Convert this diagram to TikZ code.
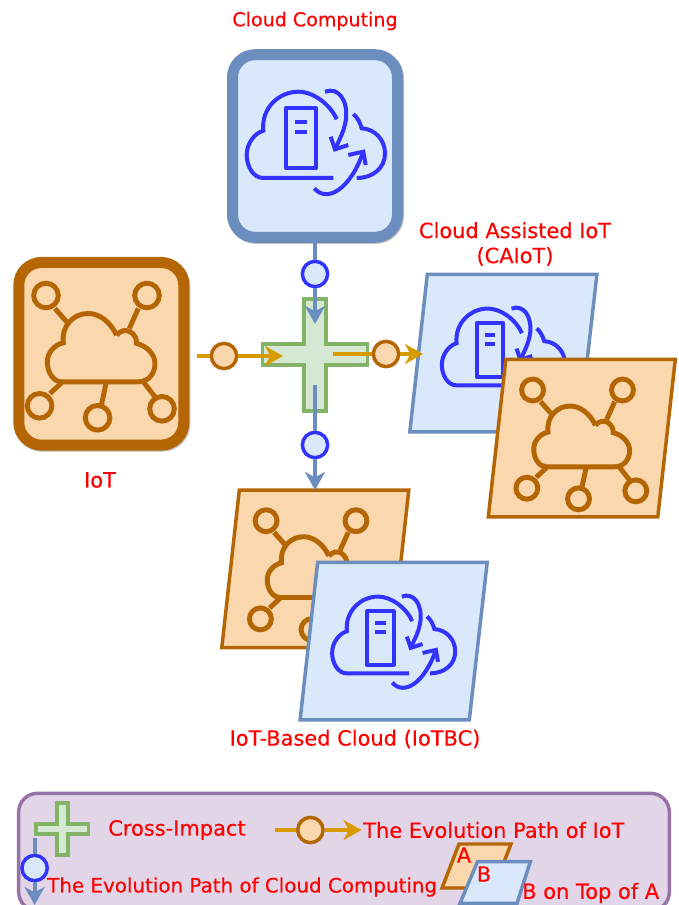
\documentclass[tikz,border=0pt]{standalone}
\usepackage{fontspec}
\setmainfont[FakeBold=0.3]{DejaVu Sans}
\usetikzlibrary{arrows.meta}

\definecolor{cloudfill}{HTML}{DAE8FC}
\definecolor{cloudedge}{HTML}{6C8EBF}
\definecolor{cloudink}{HTML}{3333FF}
\definecolor{iotfill}{HTML}{FAD7AC}
\definecolor{iotedge}{HTML}{B46504}
\definecolor{iotpath}{HTML}{D79B00}
\definecolor{crossfill}{HTML}{D5E8D4}
\definecolor{crossedge}{HTML}{82B366}
\definecolor{keyfill}{HTML}{E1D5E7}
\definecolor{keyedge}{HTML}{9673A6}

\tikzset{
  caption/.style={text=red, font=\fontsize{#1}{18.75pt}\selectfont, inner sep=0pt, align=center},
  caption/.default=15.7pt,
  iconbox/.style={rounded corners=17pt, line width=8.25pt, minimum width=123.75pt, minimum height=137pt,
    preaction={draw=black!25, transform canvas={shift={(.8pt,-.8pt)}}}},
  cloudline/.style={draw=cloudink, line width=3pt},
  iotline/.style={draw=iotedge, line width=3.7pt},
  cloudslabline/.style={draw=cloudedge, fill=cloudfill, line width=2.6pt},
  iotslabline/.style={draw=iotedge, fill=iotfill, line width=2.6pt},
  cloudstop/.style={circle, draw=cloudink, fill=cloudfill, line width=2.6pt, minimum size=19pt, inner sep=0pt},
  iotstop/.style={circle, draw=iotedge, fill=iotfill, line width=2.6pt, minimum size=19pt, inner sep=0pt},
  cloudarrow/.style={draw=cloudedge, line width=3pt, -{Stealth[length=13.5pt, width=15pt, inset=4pt]}},
  iotarrow/.style={draw=iotpath, line width=3pt, -{Stealth[length=13.5pt, width=15pt, inset=4pt]}},
  cloudicon/.pic={
    \draw[cloudline] (18.3,32) -- (-51.7,32) .. controls (-62,32) and (-68.3,20) .. (-68.3,9)
      .. controls (-68.3,-3) and (-60,-13) .. (-51.7,-15.3)
      .. controls (-54,-38) and (-36,-54.3) .. (-16.7,-54.3)
      .. controls (-2,-54.3) and (15,-42) .. (21.7,-26.7);
    \draw[cloudline] (38.3,-32) .. controls (43,-28) and (45,-23) .. (46.7,-17.7)
      .. controls (60,-17) and (70,-6) .. (70,7.3) .. controls (70,22) and (58,32) .. (41.7,32);
    \draw[cloudline, line join=round] (-29,-37.7) rectangle (1,22.3);
    \foreach \y in {-24.3,-14.3}{
      \draw[cloudline] (-20,\y) -- (-8.3,\y);
    }
    \draw[cloudline] (10,-54.3) .. controls (23.3,-59.3) and (33,-46) .. (31,-27) .. controls (29,-14) and (25,-8) .. (20,3.3);
    \draw[cloudline] (15.7,-9.3) -- (20,3.3) -- (33.3,-1);
    \draw[cloudline] (-.7,42.3) .. controls (11.7,57) and (35,44) .. (48.3,5.7);
    \draw[cloudline] (33.3,9) -- (48.3,5.7) -- (50.7,19);
  },
  ioticon/.pic={
    \draw[iotline] (15.3,-18.7) .. controls (9,-32) and (-2,-40.3) .. (-13,-40.3)
      .. controls (-28,-40.3) and (-40,-28) .. (-38,-11)
      .. controls (-47,-9) and (-54,-1) .. (-54,8) .. controls (-54,20) and (-47,28) .. (-39.7,28)
      -- (37,28) .. controls (47,28) and (53.7,20) .. (53.7,9.7)
      .. controls (53.7,0) and (45,-8) .. (35.3,-10.3)
      .. controls (36,-20) and (24,-29) .. (15.3,-18.7);
    \foreach \x/\y in {-55.3/-58.3, 45.7/-58.3, -61.7/52, -3.7/64, 60.7/55}{
      \draw[iotline] (\x,\y) circle [radius=12.3];
    }
    \draw[iotline] (-46.3,-45.3) -- (-34.7,-32);
    \draw[iotline] (37,-45.3) -- (28,-25.3);
    \draw[iotline] (-39.7,29) -- (-51.3,39.7);
    \draw[iotline] (4.7,29.7) -- (.3,50.3);
    \draw[iotline] (42,28) -- (53.7,43);
  },
  cloudslab/.pic={
    \draw[cloudslabline] (-75.3,-82.5) -- (94.3,-82.5) -- (76.4,75) -- (-92.8,75) -- cycle;
    \pic[scale=.89] {cloudicon};
  },
  iotslab/.pic={
    \draw[iotslabline] (-76,-82.5) -- (93.5,-82.5) -- (76,75) -- (-93.5,75) -- cycle;
    \pic[scale=.89] {ioticon};
  },
  impact/.pic={
    \draw[draw=crossedge, fill=crossfill, line width=2.8pt]
      (-10.7,-56) -- (10.7,-56) -- (10.7,-10.5) -- (52.5,-10.5) -- (52.5,10.5) -- (10.7,10.5)
      -- (10.7,56) -- (-10.7,56) -- (-10.7,10.5) -- (-52.5,10.5) -- (-52.5,-10.5) -- (-10.7,-10.5) -- cycle;
  },
}

\begin{document}
\begin{tikzpicture}[x=0.75pt, y=-0.75pt]
  \clip (0,0) rectangle (678,905);

  \node[caption=14.3pt] (cloudtitle) at (315,21) {Cloud Computing};
  \node[iconbox, draw=cloudedge, fill=cloudfill] (cloudbox) at (315,146) {};
  \pic at (315,146) {cloudicon};

  \node[iconbox, draw=iotedge, fill=iotfill] (iotbox) at (101.3,353.8) {};
  \pic at (101.3,353.8) {ioticon};
  \node[caption] (iottitle) at (100,480) {IoT};

  \node[caption] (caiottitle) at (515,244) {Cloud Assisted IoT\\(CAIoT)};
  \pic at (502.6,356.9) {cloudslab};
  \pic at (581.8,441.9) {iotslab};

  \pic at (315.3,572.6) {iotslab};
  \pic at (392.9,644.9) {cloudslab};
  \node[caption] (iotbctitle) at (355,739) {IoT-Based Cloud (IoTBC)};

  \pic at (315,354.8) {impact};

  \node[cloudstop] (cloudin) at (315,274) {};
  \node[cloudstop] (cloudout) at (315,445) {};
  \node[iotstop] (iotin) at (224,356) {};
  \node[iotstop] (iotout) at (386,354) {};
  \coordinate (cloudinend) at (315,324);
  \coordinate (cloudoutstart) at (315,385);
  \coordinate (cloudoutend) at (315,490);
  \coordinate (iotinstart) at (197,356);
  \coordinate (iotinend) at (283,356);
  \coordinate (iotoutstart) at (333,354);
  \coordinate (iotoutend) at (423,354);

  \draw[draw=cloudedge, line width=3pt] (cloudbox.south) -- (cloudin.north);
  \draw[cloudarrow] (cloudin.south) -- (cloudinend);
  \draw[draw=cloudedge, line width=3pt] (cloudoutstart) -- (cloudout.north);
  \draw[cloudarrow] (cloudout.south) -- (cloudoutend);
  \draw[draw=iotpath, line width=3pt] (iotinstart) -- (iotin.west);
  \draw[iotarrow] (iotin.east) -- (iotinend);
  \draw[draw=iotpath, line width=3pt] (iotoutstart) -- (iotout.west);
  \draw[iotarrow] (iotout.east) -- (iotoutend);

  \begin{scope}
    \node[draw=keyedge, fill=keyfill, line width=2.6pt, rounded corners=14pt, minimum width=488pt, minimum height=88pt] (keybox) at (344,852) {};
    \pic[xscale=.5, yscale=.47] at (62.3,829) {impact};
    \node[caption, anchor=west] (keycross) at (108,830) {Cross-Impact};

    \coordinate (keyiotstart) at (274.5,830);
    \coordinate (keyiotend) at (361.5,830);
    \node[iotstop] (keyiot) at (310.4,830) {};
    \draw[draw=iotpath, line width=3pt] (keyiotstart) -- (keyiot.west);
    \draw[iotarrow] (keyiot.east) -- (keyiotend);
    \node[caption, anchor=west] (keyiottext) at (363,830) {The Evolution Path of IoT};

    \coordinate (keycloudstart) at (34.6,838);
    \coordinate (keycloudend) at (34.6,905);
    \node[cloudstop] (keycloud) at (34.6,868) {};
    \draw[draw=cloudedge, line width=3pt] (keycloudstart) -- (keycloud.north);
    \draw[cloudarrow] (keycloud.south) -- (keycloudend);
    \node[caption=14.9pt, anchor=west] (keycloudtext) at (47,887) {The Evolution Path of Cloud Computing};

    \draw[iotslabline] (459,844) -- (511,844) -- (494,888) -- (442,888) -- cycle;
    \draw[cloudslabline] (477.5,861.7) -- (530.3,861.7) -- (517,903.3) -- (460,903.3) -- cycle;
    \node[caption] (keya) at (464,855) {A};
    \node[caption] (keyb) at (484,874) {B};
    \node[caption, anchor=west] (keytop) at (522,893) {B on Top of A};
  \end{scope}
\end{tikzpicture}
\end{document}
